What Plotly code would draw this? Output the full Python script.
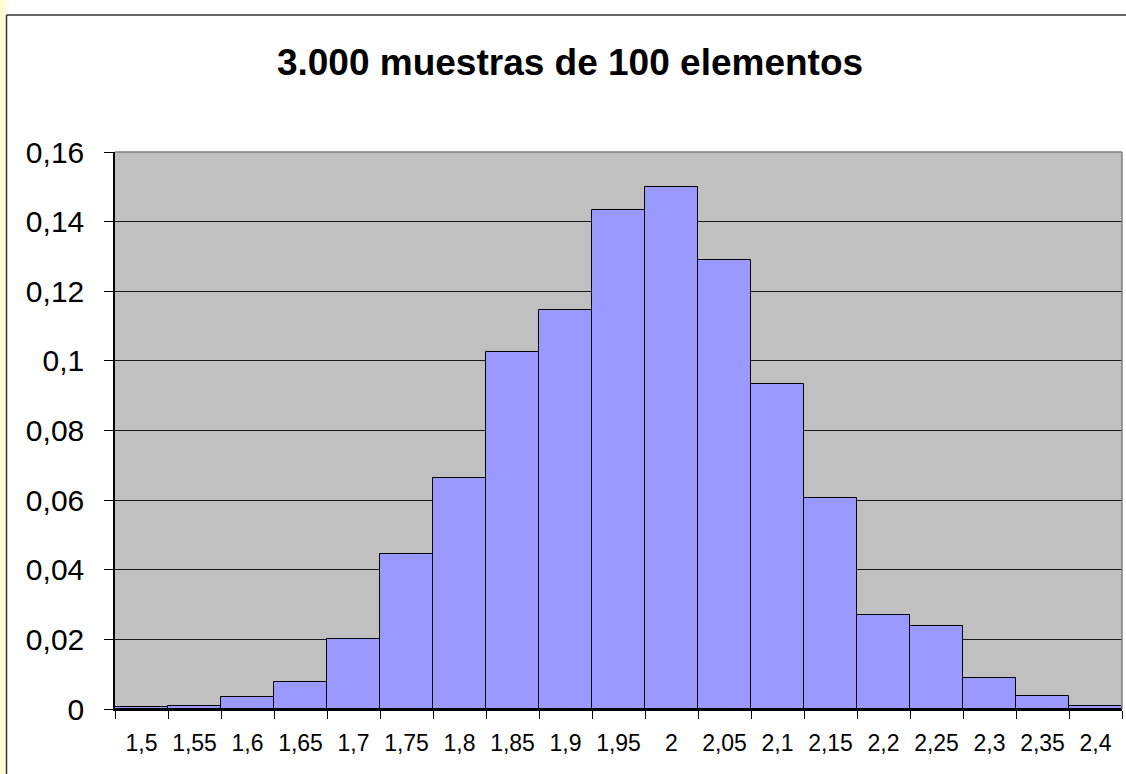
import plotly.graph_objects as go

# Data
categories = ["1,5", "1,55", "1,6", "1,65", "1,7", "1,75", "1,8", "1,85", "1,9", "1,95",
              "2", "2,05", "2,1", "2,15", "2,2", "2,25", "2,3", "2,35", "2,4"]
frequencies = [0.0005, 0.001, 0.0034, 0.0077, 0.0202, 0.0445, 0.0664, 0.1026, 0.1146, 0.1432,
               0.1499, 0.1289, 0.0934, 0.0606, 0.027, 0.0239, 0.0089, 0.0037, 0.001]
y_tickvals = [0, 0.02, 0.04, 0.06, 0.08, 0.10, 0.12, 0.14, 0.16]
y_ticktext = ["0", "0,02", "0,04", "0,06", "0,08", "0,1", "0,12", "0,14", "0,16"]
title_text = "3.000 muestras de 100 elementos"

W, H = 1126, 774
ML, MR, MT, MB = 115, 4, 152, 65
PW = W - ML - MR
PH = H - MT - MB


def px_x(p):
    return (p - ML) / PW


def px_y(p):
    return (H - MB - p) / PH


FONT = "Arial, 'Liberation Sans', sans-serif"

fig = go.Figure()
fig.add_trace(go.Bar(
    x=categories, y=frequencies,
    marker=dict(color="#9999FF", line=dict(color="#000000", width=1)),
    showlegend=False,
))

shapes = [
    # yellow strip at far left
    dict(type="rect", xref="paper", yref="paper", x0=px_x(0), x1=px_x(6),
         y0=px_y(H), y1=px_y(0), fillcolor="#FFFFD4", line=dict(width=0), layer="above"),
    # outer frame: left and top
    dict(type="line", xref="paper", yref="paper", x0=px_x(6.5), x1=px_x(6.5),
         y0=px_y(H + 5), y1=px_y(15), line=dict(color="#333333", width=1.5)),
    dict(type="line", xref="paper", yref="paper", x0=px_x(6.5), x1=px_x(W + 5),
         y0=px_y(15), y1=px_y(15), line=dict(color="#333333", width=1.5)),
    # plot area border top and right in gray
    dict(type="line", xref="paper", yref="paper", x0=0, x1=1, y0=1, y1=1,
         line=dict(color="#808080", width=1.5)),
    dict(type="line", xref="paper", yref="paper", x0=1, x1=1, y0=0, y1=1,
         line=dict(color="#808080", width=1.5)),
]

fig.update_layout(
    width=W, height=H,
    margin=dict(l=ML, r=MR, t=MT, b=MB, pad=0),
    paper_bgcolor="#FFFFFF",
    plot_bgcolor="#C0C0C0",
    bargap=0,
    font=dict(family=FONT, color="#000000"),
    title=dict(text="<b>" + title_text + "</b>", x=(570) / W, xanchor="center",
               y=1 - 62 / H, yanchor="middle", font=dict(size=37, family=FONT, color="#000000")),
    xaxis=dict(
        type="category", tickson="boundaries", ticks="outside", ticklen=8,
        tickcolor="#000000", tickwidth=1, showgrid=False,
        showline=True, linecolor="#000000", linewidth=1.5,
        tickfont=dict(size=23, family=FONT, color="#000000"),
        ticklabelstandoff=13, tickangle=0,
    ),
    yaxis=dict(
        range=[0, 0.16], tickvals=y_tickvals, ticktext=y_ticktext,
        ticks="outside", ticklen=9, tickcolor="#000000", tickwidth=1,
        showgrid=True, gridcolor="#1a1a1a", gridwidth=1,
        zeroline=False,
        showline=True, linecolor="#000000", linewidth=1.5,
        tickfont=dict(size=30, family=FONT, color="#000000"),
        ticklabelstandoff=14,
    ),
    shapes=shapes,
)

fig.write_html(
    "out.html",
    config={"displayModeBar": False},
    post_script="document.body.style.margin='0';document.body.style.overflow='hidden';",
)
